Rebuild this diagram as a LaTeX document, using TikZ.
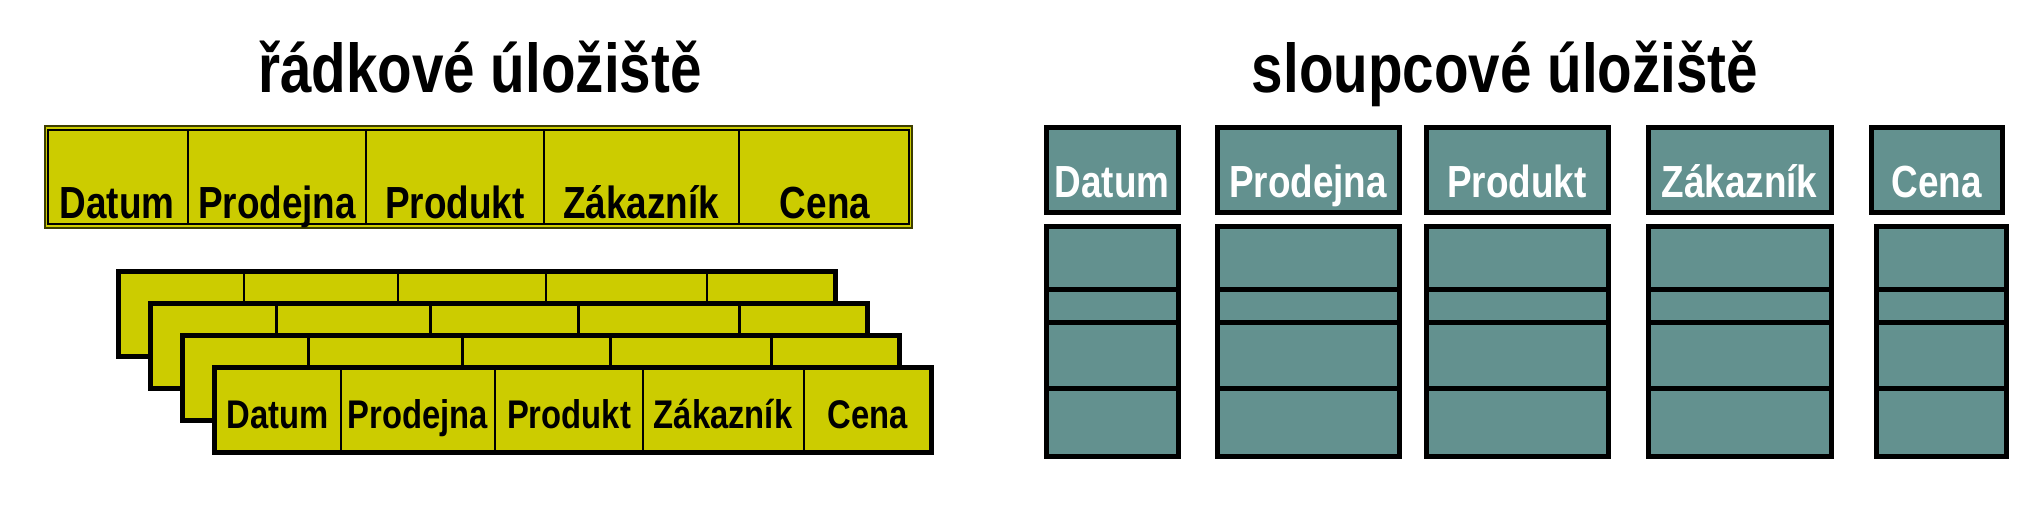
\documentclass[tikz,border=0pt]{standalone}
\usepackage{fontspec}
\setmainfont{Liberation Sans}[FakeStretch=0.82]
\definecolor{yel}{HTML}{CCCC00}
\definecolor{teal2}{HTML}{63918F}
\begin{document}
\begin{tikzpicture}[x=1pt,y=-1pt,
  title/.style={font=\fontsize{69}{72}\selectfont\bfseries,anchor=base},
  ylab/.style={font=\fontsize{45}{48}\selectfont\bfseries,text=black,anchor=base,inner sep=0pt},
  slab/.style={font=\fontsize{40}{44}\selectfont\bfseries,text=black,anchor=base,inner sep=0pt},
  clab/.style={font=\fontsize{45}{48}\selectfont\bfseries,text=white,anchor=base,inner sep=0pt},
  ybox/.style={fill=yel,draw=black,line width=5pt},
  cbox/.style={fill=teal2,draw=black,line width=5pt}]
\useasboundingbox (0,0) rectangle (2019,512);
\node[title] (t1) at (480,92) {řádkové úložiště};
\node[title] (t2) at (1505,92) {sloupcové úložiště};
% top row
\fill[yel] (45,126) rectangle (912,228);
\draw[draw=black!70!yel,line width=2pt] (45,126) rectangle (912,228);
\draw[line width=2.5pt] (48,130) rectangle (909,224);
\foreach \x in {188,366,544,739} \draw[line width=2.5pt] (\x,130) -- (\x,224);
\node[ylab] (r1) at (117,218) {Datum};
\node[ylab] (r2) at (277,218) {Prodejna};
\node[ylab] (r3) at (455,218) {Produkt};
\node[ylab] (r4) at (641,218) {Zákazník};
\node[ylab] (r5) at (825,218) {Cena};
% stacked rows
\foreach \i in {0,1,2,3}{
  \pgfmathsetmacro\ox{118+32.3*\i}
  \pgfmathsetmacro\oy{271+32.3*\i}
  \begin{scope}[shift={(\ox,\oy)}]
    \draw[ybox] (0,0) rectangle (717,85);
    \foreach \x in {126,280,428,589} \draw[line width=2.5pt] (\x,0) -- (\x,85);
  \end{scope}
}
\node[slab] (s1) at (278,428) {Datum};
\node[slab] (s2) at (418,428) {Prodejna};
\node[slab] (s3) at (569,428) {Produkt};
\node[slab] (s4) at (723,428) {Zákazník};
\node[slab] (s5) at (868,428) {Cena};
% columns
\foreach \a/\b/\c/\d/\t/\n in {1046/1178/1046/1178/Datum/1,1217/1399/1217/1399/Prodejna/2,1426/1608/1426/1608/Produkt/3,1648/1831/1648/1831/Zákazník/4,1871/2002/1876/2006/Cena/5}{
  \draw[cbox] (\a,127) rectangle (\b,212);
  \node[clab] (c\n) at ({(\a+\b)/2},197) {\t};
  \draw[cbox] (\c,226) rectangle (\d,456);
  \foreach \y in {289,322,388} \draw[line width=5pt] (\c,\y) -- (\d,\y);
}
\end{tikzpicture}
\end{document}
